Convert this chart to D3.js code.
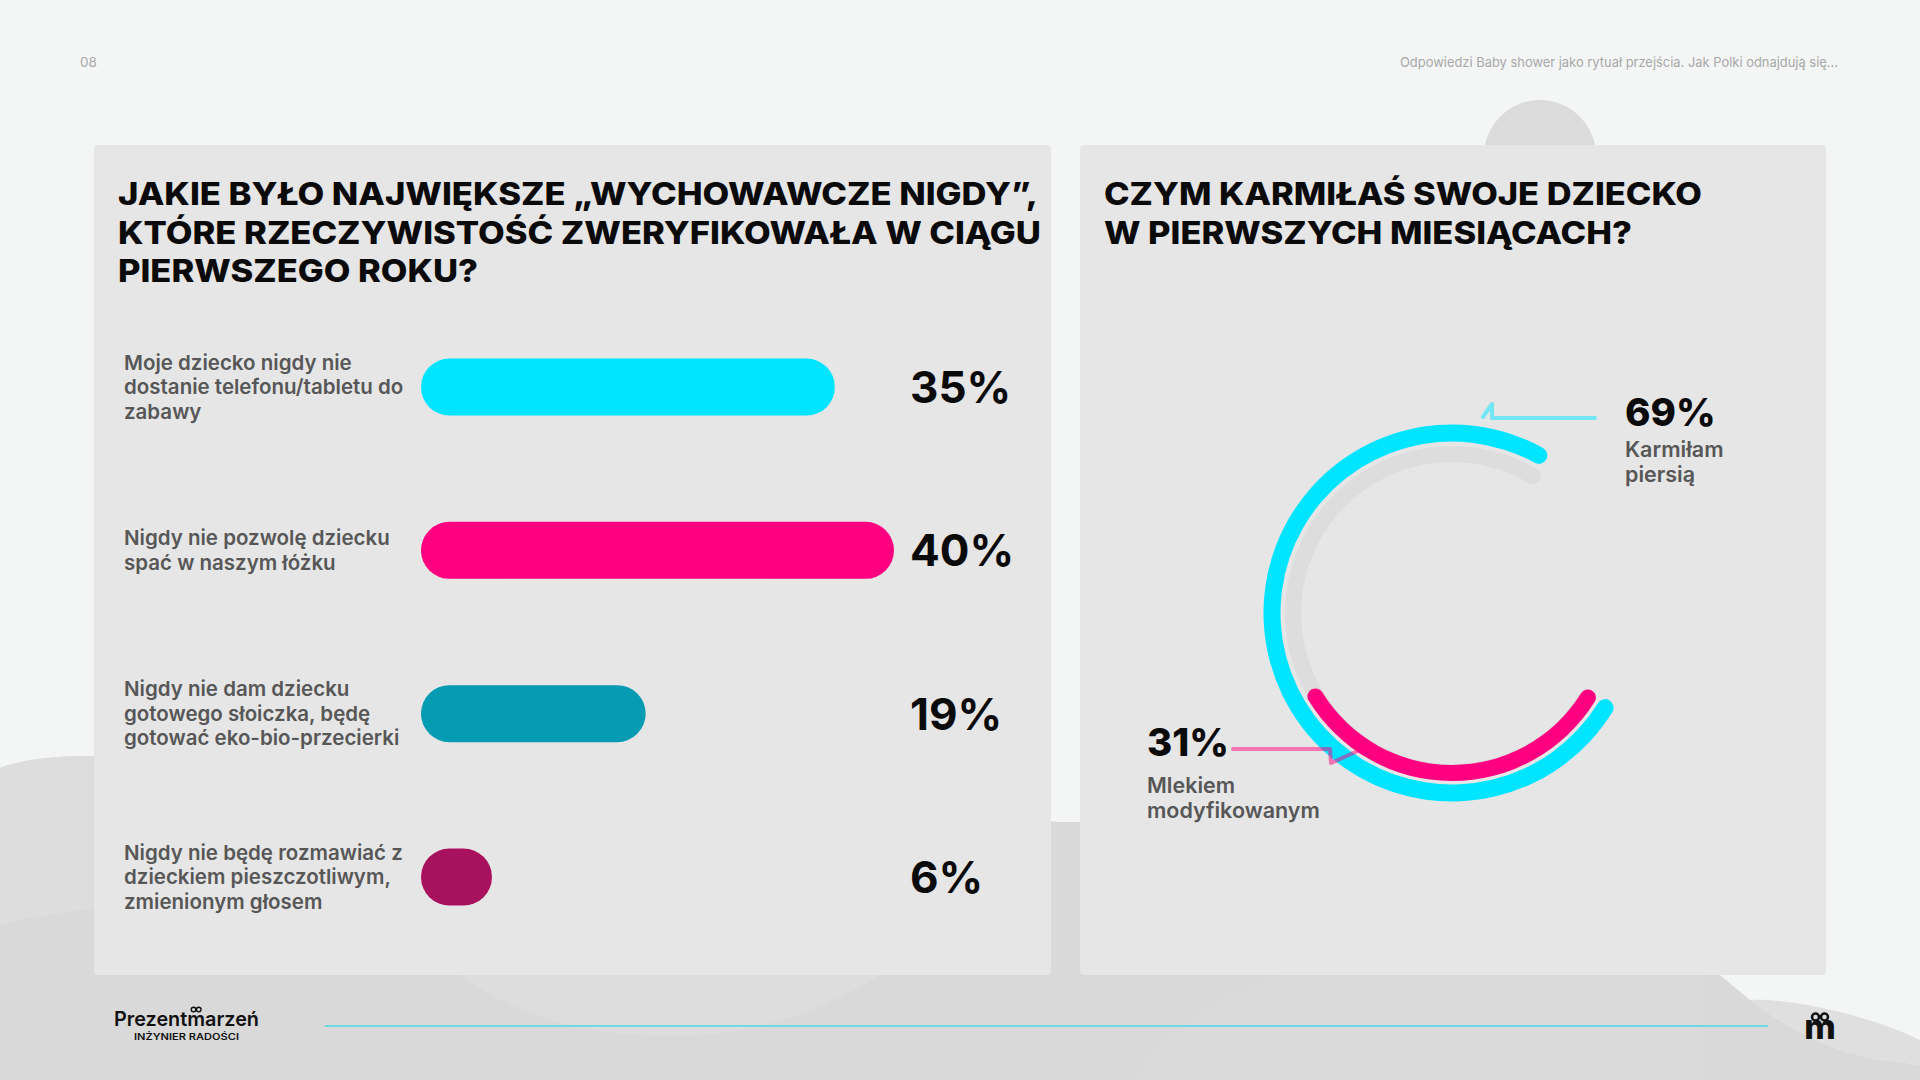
<!DOCTYPE html>
<html>
<head>
<meta charset="utf-8">
<script src="https://cdn.jsdelivr.net/npm/d3@7"></script>
<style>
  html, body { margin: 0; padding: 0; background: #f4f6f5; overflow: hidden; }
  svg { display: block; }
  text { font-family: "Inter", "Noto Sans", sans-serif; }
</style>
</head>
<body>
<svg id="chart" width="1920" height="1080"></svg>
<script>
// ---------- DATA ----------
const pageNumber = "08";
const headerText = "Odpowiedzi Baby shower jako rytuał przejścia. Jak Polki odnajdują się...";

const barTitleLines = ["JAKIE BYŁO NAJWIĘKSZE „WYCHOWAWCZE NIGDY”,", "KTÓRE RZECZYWISTOŚĆ ZWERYFIKOWAŁA W CIĄGU", "PIERWSZEGO ROKU?"];
const categories = [
  "Moje dziecko nigdy nie dostanie telefonu/tabletu do zabawy",
  "Nigdy nie pozwolę dziecku spać w naszym łóżku",
  "Nigdy nie dam dziecku gotowego słoiczka, będę gotować eko-bio-przecierki",
  "Nigdy nie będę rozmawiać z dzieckiem pieszczotliwym, zmienionym głosem"
];
const categoryLines = [
  ["Moje dziecko nigdy nie", "dostanie telefonu/tabletu do", "zabawy"],
  ["Nigdy nie pozwolę dziecku", "spać w naszym łóżku"],
  ["Nigdy nie dam dziecku", "gotowego słoiczka, będę", "gotować eko-bio-przecierki"],
  ["Nigdy nie będę rozmawiać z", "dzieckiem pieszczotliwym,", "zmienionym głosem"]
];
const barValues = [35, 40, 19, 6];
const barColors = ["#00e5ff", "#ff0080", "#059bb3", "#a8115e"];

const ringTitleLines = ["CZYM KARMIŁAŚ SWOJE DZIECKO", "W PIERWSZYCH MIESIĄCACH?"];
const ringCategories = ["Karmiłam piersią", "Mlekiem modyfikowanym"];
const ringLabelLines = [["Karmiłam", "piersią"], ["Mlekiem", "modyfikowanym"]];
const ringValues = [69, 31];
const ringColors = ["#00e5ff", "#ff0080"];

const brandName = "Prezentmarzeń";
const brandTagline = "INŻYNIER RADOŚCI";

// ---------- SETUP ----------
const svg = d3.select("#chart");
const W = 1920, H = 1080;

// background
svg.append("rect").attr("width", W).attr("height", H).attr("fill", "#f4f6f5");
svg.append("circle").attr("cx", 1540).attr("cy", 156).attr("r", 56).attr("fill", "#dadbda");
svg.append("path")
  .attr("d", "M0,1080 V768 C30,756 80,754 120,758 L1060,822 L1700,822 L1700,975 L1720,975 L1750,1000 C1790,1030 1830,1050 1870,1058 L1920,1065 V1080 Z")
  .attr("fill", "#d8d9d8");
svg.append("path")
  .attr("d", "M0,768 C30,756 80,754 120,758 L120,905 C80,910 40,915 0,925 Z")
  .attr("fill", "#dcdddc");
svg.append("path")
  .attr("d", "M460,975 C520,1020 600,1040 700,1035 C780,1030 840,1000 880,975 Z")
  .attr("fill", "#dcdddc");
svg.append("path")
  .attr("d", "M1283,975 C1200,1000 1160,1040 1135,1080 L1700,1080 L1700,975 Z")
  .attr("fill", "#d9dad9");
svg.append("path")
  .attr("d", "M1750,1000 C1800,998 1880,1020 1920,1040 V1065 L1870,1058 C1830,1050 1790,1030 1750,1000 Z")
  .attr("fill", "#dedfde");

// header
svg.append("text").attr("x", 80).attr("y", 67).attr("font-size", 13.5).attr("fill", "#a8a8a8").text(pageNumber);
svg.append("text").attr("x", 1838).attr("y", 67).attr("text-anchor", "end").attr("font-size", 13.5)
  .attr("fill", "#a8a8a8").attr("textLength", 438).attr("lengthAdjust", "spacingAndGlyphs").text(headerText);

// panels
svg.append("rect").attr("x", 94).attr("y", 145).attr("width", 957).attr("height", 830).attr("rx", 4).attr("fill", "#e6e6e6");
svg.append("rect").attr("x", 1080).attr("y", 145).attr("width", 746).attr("height", 830).attr("rx", 4).attr("fill", "#e6e6e6");

// titles
function title(lines, x, widths) {
  lines.forEach((l, i) => {
    svg.append("text").attr("x", x).attr("y", 205 + i * 38.5)
      .attr("font-size", 31).attr("font-weight", 800).attr("fill", "#0a0a0a")
      .attr("textLength", widths[i]).attr("lengthAdjust", "spacingAndGlyphs")
      .text(l);
  });
}
title(barTitleLines, 118, [920, 923, 360]);
title(ringTitleLines, 1104, [598, 528]);

// ---------- BAR CHART ----------
const x = d3.scaleLinear().domain([0, 40]).range([0, 473]);
const y = d3.scalePoint().domain(categories).range([387, 877]);
const barH = 57, barX0 = 421;

const rows = svg.append("g").selectAll("g").data(categories).join("g");
rows.append("rect")
  .attr("x", barX0)
  .attr("y", d => y(d) - barH / 2)
  .attr("width", (d, i) => x(barValues[i]))
  .attr("height", barH)
  .attr("rx", barH / 2)
  .attr("fill", (d, i) => barColors[i]);

rows.each(function (d, i) {
  const g = d3.select(this);
  const lines = categoryLines[i];
  const n = lines.length;
  lines.forEach((l, j) => {
    g.append("text").attr("x", 124)
      .attr("y", y(d) + 7 + (j - (n - 1) / 2) * 24.5)
      .attr("font-size", 20.5).attr("font-weight", 600).attr("fill", "#575757")
      .text(l);
  });
  g.append("text").attr("x", 910).attr("y", y(d) + 16)
    .attr("font-size", 44).attr("font-weight", 700).attr("fill", "#0a0a0a")
    .text(barValues[i] + "%");
});

// ---------- RING CHART ----------
const cx = 1452, cy = 613;
const startDeg = 119;
const ang = d3.scaleLinear().domain([0, 100]).range([startDeg, startDeg + 395].map(d => d * Math.PI / 180));
const ring = svg.append("g").attr("transform", `translate(${cx},${cy})`);
const ringRadii = [[171.5, 188.5], [152, 168]];

// track
ring.append("path")
  .attr("d", d3.arc().innerRadius(151).outerRadius(167).cornerRadius(8)
    .startAngle(ang(0)).endAngle(ang(69.5))())
  .attr("fill", "#dddddd");

ringValues.forEach((v, i) => {
  ring.append("path")
    .attr("d", d3.arc().innerRadius(ringRadii[i][0]).outerRadius(ringRadii[i][1])
      .cornerRadius((ringRadii[i][1] - ringRadii[i][0]) / 2)
      .startAngle(ang(0)).endAngle(ang(v))())
    .attr("fill", ringColors[i]);
});

// leader lines
const line = d3.line();
svg.append("path")
  .attr("d", line([[1595, 418], [1492, 418], [1492, 404], [1483, 417]]))
  .attr("fill", "none").attr("stroke", ringColors[0]).attr("stroke-opacity", 0.5)
  .attr("stroke-width", 4).attr("stroke-linecap", "round").attr("stroke-linejoin", "round");
svg.append("path")
  .attr("d", line([[1233, 749], [1330, 749], [1331, 763], [1360, 750]]))
  .attr("fill", "none").attr("stroke", ringColors[1]).attr("stroke-opacity", 0.5)
  .attr("stroke-width", 4).attr("stroke-linecap", "round").attr("stroke-linejoin", "round");

// ring labels
const ringLabelPos = [[1625, 426, 31], [1147, 756, 37]];
ringValues.forEach((v, i) => {
  const [lx, ly, off] = ringLabelPos[i];
  svg.append("text").attr("x", lx).attr("y", ly)
    .attr("font-size", 38.5).attr("font-weight", 800).attr("fill", "#0a0a0a").text(v + "%");
  ringLabelLines[i].forEach((l, j) => {
    svg.append("text").attr("x", lx).attr("y", ly + off + j * 25)
      .attr("font-size", 21.5).attr("font-weight", 600).attr("fill", "#575757").text(l);
  });
});

// ---------- FOOTER ----------
const brand = svg.append("text").attr("x", 114).attr("y", 1026).attr("font-size", 20).attr("font-weight", 600)
  .attr("fill", "#111").attr("textLength", 145).attr("lengthAdjust", "spacingAndGlyphs").text(brandName);
let mStart = 188, mEnd = 206;
try {
  const node = brand.node();
  mStart = node.getStartPositionOfChar(7).x;
  mEnd = node.getEndPositionOfChar(7).x;
} catch (e) {}
const mMid = (mStart + mEnd) / 2;
// small bow on logo "m"
[-2.6, 2.6].forEach(dx => {
  svg.append("circle").attr("cx", mMid + dx).attr("cy", 1009.5).attr("r", 2.3).attr("fill", "none")
    .attr("stroke", "#111").attr("stroke-width", 1.4);
});
svg.append("text").attr("x", 134).attr("y", 1040).attr("font-size", 9).attr("font-weight", 600)
  .attr("fill", "#111").attr("textLength", 105).attr("lengthAdjust", "spacingAndGlyphs").text(brandTagline);

svg.append("line").attr("x1", 325).attr("x2", 1768).attr("y1", 1026).attr("y2", 1026)
  .attr("stroke", "#48d8ea").attr("stroke-width", 1.5);

svg.append("text").attr("x", 1820).attr("y", 1039).attr("text-anchor", "middle").attr("font-size", 34)
  .attr("font-weight", 800).attr("fill", "#111").text("m");
svg.append("circle").attr("cx", 1815.5).attr("cy", 1017).attr("r", 3.5).attr("fill", "none").attr("stroke", "#111").attr("stroke-width", 2.5);
svg.append("circle").attr("cx", 1824.5).attr("cy", 1017).attr("r", 3.5).attr("fill", "none").attr("stroke", "#111").attr("stroke-width", 2.5);
</script>
</body>
</html>
